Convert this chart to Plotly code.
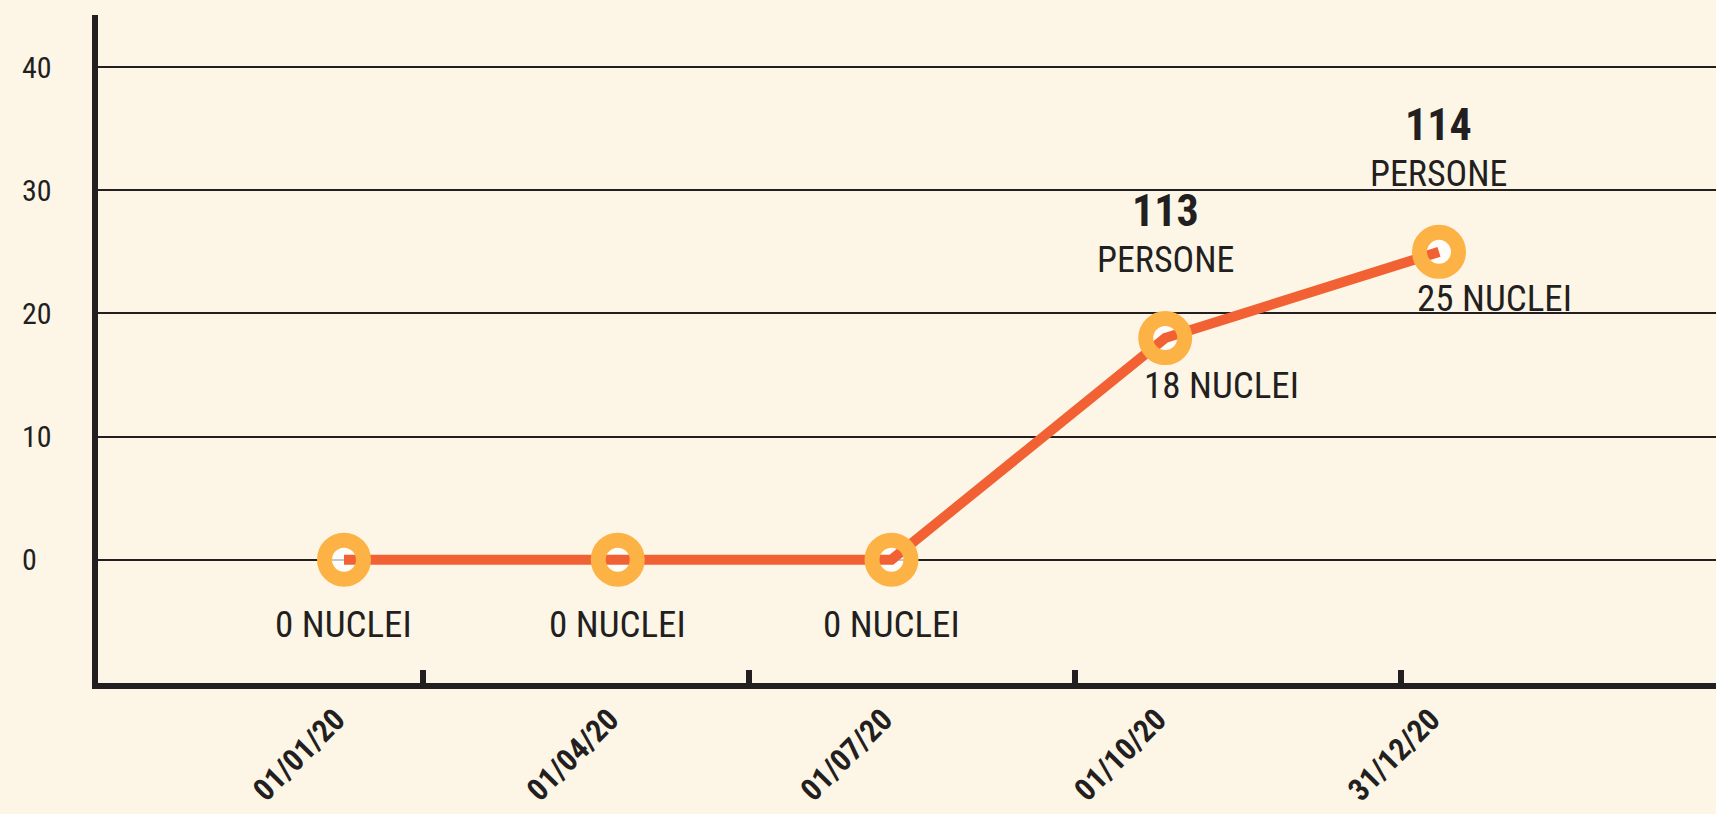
import plotly.graph_objects as go

# ---- data ----
dates = ["01/01/20", "01/04/20", "01/07/20", "01/10/20", "31/12/20"]
nuclei = [0, 0, 0, 18, 25]
persone = [None, None, None, 113, 114]
y_ticks = [0, 10, 20, 30, 40]

# ---- style ----
BG = "#FDF6E7"
INK = "#231F20"
LINE = "#F26133"
RING = "#FDB245"
FONT = "Roboto Condensed, Liberation Sans Narrow, Roboto, sans-serif"

xpos = list(range(len(dates)))

fig = go.Figure()

# light inner fill of the rings
fig.add_trace(go.Scatter(
    x=xpos, y=nuclei, mode="markers",
    marker=dict(symbol="circle", size=25, color="rgba(255,255,255,0.75)", line=dict(width=0)),
    hoverinfo="skip", showlegend=False))
# the line
fig.add_trace(go.Scatter(
    x=xpos, y=nuclei, mode="lines",
    line=dict(color=LINE, width=10),
    hoverinfo="skip", showlegend=False))
# ring markers
fig.add_trace(go.Scatter(
    x=xpos, y=nuclei, mode="markers",
    marker=dict(symbol="circle-open", size=39, color=RING, line=dict(width=15, color=RING)),
    showlegend=False))

annotations = []
for i, n in enumerate(nuclei):
    if persone[i] is None:
        annotations.append(dict(x=xpos[i], y=n, text=f"{n} NUCLEI", showarrow=False,
                                xanchor="center", yanchor="middle", xshift=0, yshift=-65,
                                font=dict(family=FONT, size=37, color=INK)))
    else:
        annotations.append(dict(x=xpos[i], y=n, text=f"{n} NUCLEI", showarrow=False,
                                xanchor="center", yanchor="middle", xshift=56, yshift=-47,
                                font=dict(family=FONT, size=37, color=INK)))
        annotations.append(dict(x=xpos[i], y=n, text=f"<b>{persone[i]}</b>", showarrow=False,
                                xanchor="center", yanchor="middle", xshift=0, yshift=127,
                                font=dict(family=FONT, size=44, color=INK)))
        annotations.append(dict(x=xpos[i], y=n, text="PERSONE", showarrow=False,
                                xanchor="center", yanchor="middle", xshift=0, yshift=78,
                                font=dict(family=FONT, size=36, color=INK)))

# y tick labels (left aligned)
for v in y_ticks:
    annotations.append(dict(xref="paper", yref="y", x=-0.0482, y=v, text=str(v),
                            showarrow=False, xanchor="left", yanchor="middle",
                            font=dict(family=FONT, size=30, color=INK)))

fig.update_layout(
    width=1716, height=814,
    margin=dict(l=98, r=0, t=15, b=130.5, autoexpand=False),
    paper_bgcolor=BG, plot_bgcolor=BG,
    showlegend=False,
    annotations=annotations,
    xaxis=dict(
        range=[-0.8986, 5.0119], automargin=False,
        tickvals=xpos, ticktext=dates,
        showgrid=False, zeroline=False,
        showline=True, linewidth=6, linecolor=INK,
        ticks="", tickangle=-45,
        tickfont=dict(family=FONT, size=31, color=INK, weight="bold"),
        ticklabelstandoff=0, ticklabelshift=-8,
        minor=dict(tickvals=[0.2886, 1.4795, 2.6703, 3.8612], ticks="inside",
                   ticklen=13, tickwidth=6, tickcolor=INK, showgrid=False),
    ),
    yaxis=dict(
        range=[-10.02, 44.24], tickvals=y_ticks, automargin=False,
        showgrid=True, gridcolor=INK, gridwidth=1.5,
        zeroline=False, showline=True, linewidth=6, linecolor=INK,
        ticks="", showticklabels=False,
    ),
)

fig.write_html(
    "out.html",
    config={"displayModeBar": False},
    post_script="document.body.style.margin='0';document.body.style.overflow='hidden';",
)
